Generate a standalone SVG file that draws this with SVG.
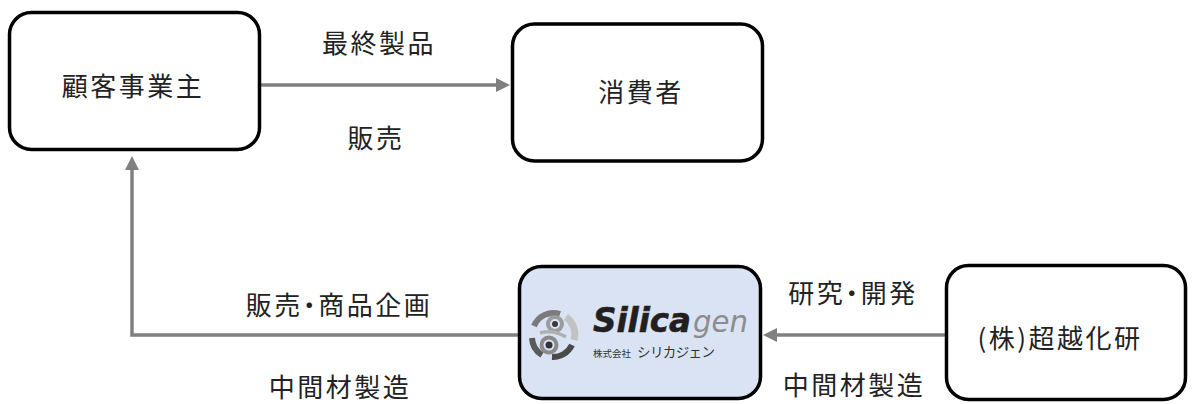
<svg xmlns="http://www.w3.org/2000/svg" width="1192" height="404" viewBox="0 0 1192 404">
<style>
.box{fill:#ffffff;stroke:#000000;stroke-width:3.5}
.blue{fill:#dae3f3}
.lbl{font-family:"Noto Sans CJK JP","Noto Sans",sans-serif;font-size:26px;fill:#222222;text-anchor:middle;letter-spacing:2.5px}
.prop{font-feature-settings:"palt" 1}
.conn{fill:none;stroke:#808080;stroke-width:3.5}
</style>
<defs>
<marker id="ah" viewBox="0 0 14 14" markerWidth="14" markerHeight="14" refX="0" refY="7" orient="auto" markerUnits="userSpaceOnUse">
<path d="M0,0 L14,7 L0,14 z" fill="#808080"/>
</marker>
</defs>
<rect width="1192" height="404" fill="#ffffff"/>
<g id="connectors">
<path class="conn" d="M261,85 H496" marker-end="url(#ah)"/>
<path class="conn" d="M945,335 H777" marker-end="url(#ah)"/>
<path class="conn" d="M518,335 H132 V170" marker-end="url(#ah)"/>
</g>
<g id="edge-labels">
<text class="lbl" x="379" y="53">最終製品</text>
<text class="lbl" x="376" y="148">販売</text>
<text class="lbl prop" x="339" y="315">販売・商品企画</text>
<text class="lbl" x="340" y="397">中間材製造</text>
<text class="lbl prop" x="853" y="303">研究・開発</text>
<text class="lbl" x="854" y="395">中間材製造</text>
</g>
<g id="node-customer">
<rect class="box" x="9.5" y="12.5" width="250" height="137" rx="22"/>
<text class="lbl" x="133" y="96">顧客事業主</text>
</g>
<g id="node-consumer">
<rect class="box" x="512.5" y="24" width="250" height="137" rx="22"/>
<text class="lbl" x="641" y="102">消費者</text>
</g>
<g id="node-silicagen">
<rect class="box blue" x="519.5" y="266.5" width="241" height="132" rx="22"/>
<g id="emblem">
<path d="M534,326 A21,21 0 0 1 560,314" fill="none" stroke="#7a7a7a" stroke-width="6"/>
<path d="M566,317 A21,21 0 0 1 574,340" fill="none" stroke="#c2c2c2" stroke-width="7"/>
<path d="M572,345 A21,21 0 0 1 552,357" fill="none" stroke="#4a4a4a" stroke-width="6"/>
<path d="M542,355 A21,21 0 0 1 532,338" fill="none" stroke="#5a5a5a" stroke-width="6"/>
<circle cx="555" cy="324" r="7" fill="none" stroke="#9c9c9c" stroke-width="4"/>
<circle cx="555" cy="324" r="3" fill="#3a3a3a"/>
<circle cx="549" cy="345" r="7.5" fill="none" stroke="#8a8a8a" stroke-width="4"/>
<circle cx="549" cy="345" r="3.5" fill="#333333"/>
<path d="M540,333 Q553,329 566,337" fill="none" stroke="#b0b0b0" stroke-width="3.5"/>
</g>
<text x="593" y="332" font-family="DejaVu Sans, sans-serif" font-weight="bold" font-style="italic" font-size="33" fill="#231f20" stroke="#231f20" stroke-width="0.6" textLength="98" lengthAdjust="spacingAndGlyphs">Silica</text>
<text x="693" y="332" font-family="DejaVu Sans, sans-serif" font-style="italic" font-size="31" fill="#8c8c8c" textLength="55" lengthAdjust="spacingAndGlyphs">gen</text>
<text x="593" y="357" font-family="Noto Sans CJK JP, sans-serif" font-size="9.5" fill="#333333">株式会社</text>
<text x="637" y="357" font-family="Noto Sans CJK JP, sans-serif" font-size="13.5" fill="#333333" textLength="78">シリカジェン</text>
</g>
<g id="node-lab">
<rect class="box" x="946.5" y="265.5" width="239" height="134" rx="22"/>
<text class="lbl" x="1060" y="348">(株)超越化研</text>
</g>
</svg>
